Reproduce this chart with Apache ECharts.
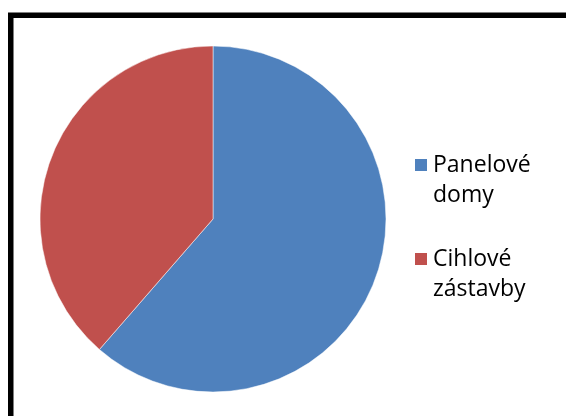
<!DOCTYPE html>
<html>
<head>
<meta charset="utf-8">
<script src="https://cdn.jsdelivr.net/npm/echarts@6/dist/echarts.min.js"></script>
<style>
  html, body { margin: 0; padding: 0; background: #fff; }
  #chart { width: 566px; height: 416px; }
</style>
</head>
<body>
<div id="chart"></div>
<script>
// Share of housing types
const categories = ['Panelové domy', 'Cihlové zástavby'];
const legendLines = [['Panelové', 'domy'], ['Cihlové', 'zástavby']];
const shares = [61.4, 38.6];
const colors = ['#4F81BD', '#C0504D'];

const chart = echarts.init(document.getElementById('chart'));

const pieData = categories.map((name, i) => ({
  name: name,
  value: shares[i],
  itemStyle: { color: colors[i] }
}));

chart.setOption({
  animation: false,
  backgroundColor: '#ffffff',
  graphic: [{
    type: 'rect',
    shape: { x: 10.75, y: 15.25, width: 600, height: 500 },
    style: { fill: 'none', stroke: '#000000', lineWidth: 5.5 },
    silent: true
  }],
  legend: {
    orient: 'vertical',
    left: 413,
    top: 120,
    padding: 0,
    icon: 'rect',
    itemWidth: 14,
    itemHeight: 14,
    itemGap: 4,
    data: categories,
    // leading blank line keeps the first text line level with the swatch
    formatter: function (name) {
      return '\n' + legendLines[categories.indexOf(name)].join('\n');
    },
    textStyle: {
      fontFamily: '"Open Sans", sans-serif',
      fontSize: 23,
      lineHeight: 30,
      color: '#000000'
    }
  },
  series: [{
    type: 'pie',
    center: [213, 219],
    radius: 173,
    startAngle: 90,
    clockwise: true,
    label: { show: false },
    labelLine: { show: false },
    itemStyle: { borderColor: '#ffffff', borderWidth: 0.5 },
    emphasis: { disabled: true },
    data: pieData
  }]
});
</script>
</body>
</html>
